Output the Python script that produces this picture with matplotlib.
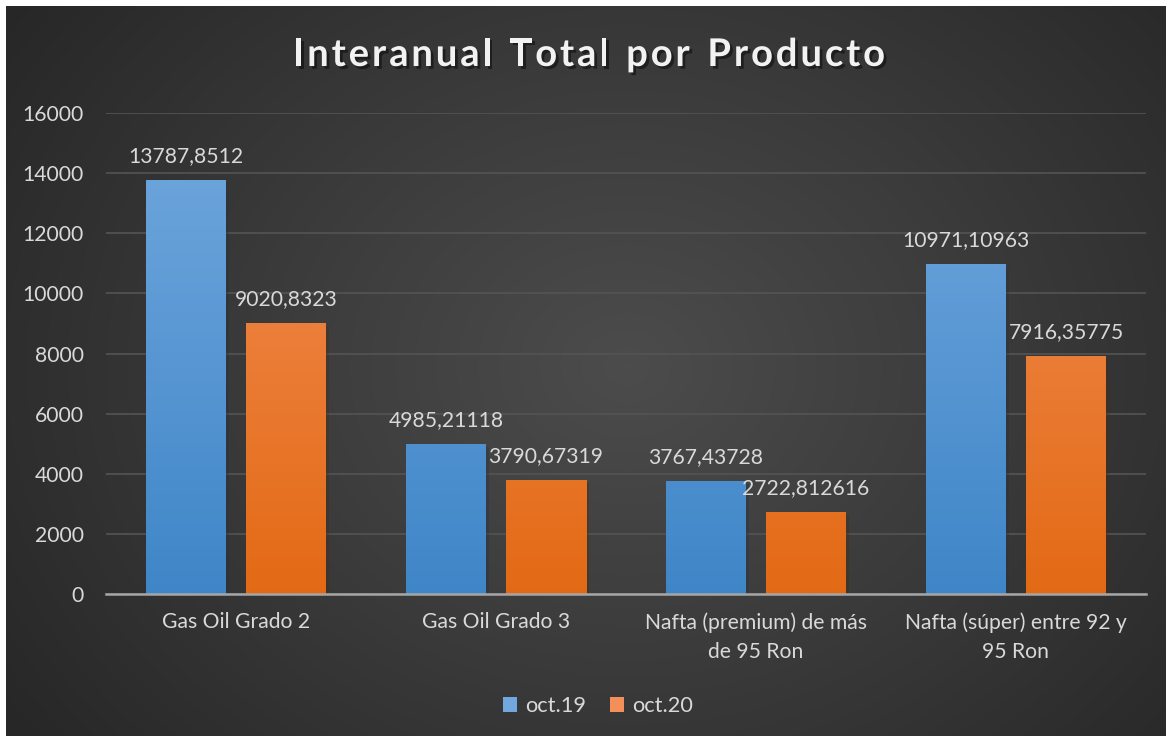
import numpy as np
import matplotlib
matplotlib.use("Agg")
import matplotlib.pyplot as plt
import matplotlib.patheffects as pe
from matplotlib.colors import LinearSegmentedColormap
from matplotlib.patches import Patch

plt.rcParams['font.family'] = ['Lato', 'DejaVu Sans']

titulo = "Interanual Total por Producto"
productos = ["Gas Oil Grado 2", "Gas Oil Grado 3",
             "Nafta (premium) de más\nde 95 Ron", "Nafta (súper) entre 92 y\n95 Ron"]
oct19 = [13787.8512, 4985.21118, 3767.43728, 10971.10963]
oct20 = [9020.8323, 3790.67319, 2722.812616, 7916.35775]
series = ["oct.19", "oct.20"]
yticks = [0, 2000, 4000, 6000, 8000, 10000, 12000, 14000, 16000]

txt = "#d9d9d9"
azul = ("#72a8de", "#3f86c8")
naranja = ("#f38f58", "#e36a15")
fs = 15.2

fig = plt.figure(figsize=(11.66, 7.36), dpi=100)
fig.patch.set_facecolor("white")

# fondo con degradado radial
bg = fig.add_axes([6 / 1166, 0, 1160 / 1166, 730 / 736])
bg.set_axis_off()
yy, xx = np.mgrid[0:730, 0:1160]
r = np.sqrt(((xx - 620) / 760.0) ** 2 + ((yy - 360) / 620.0) ** 2)
r = np.clip(r, 0, 1)
cmap_bg = LinearSegmentedColormap.from_list("bg", ["#4c4c4c", "#3a3a3a", "#272727"])
bg.imshow(r, cmap=cmap_bg, aspect="auto", interpolation="bilinear", vmin=0, vmax=1)

ax = fig.add_axes([106 / 1166, 142 / 736, 1040 / 1166, 481 / 736])
ax.patch.set_alpha(0)
x = np.arange(len(productos))
w = 80 / 260
off = 50 / 260


def grad_bars(bars, cols):
    cm = LinearSegmentedColormap.from_list("g", [cols[1], cols[0]])
    g = np.linspace(0, 1, 256).reshape(-1, 1)
    for b in bars:
        x0 = b.get_x()
        im = ax.imshow(g, cmap=cm, origin="lower", aspect="auto",
                       extent=[x0, x0 + b.get_width(), 0, 16000], zorder=3)
        im.set_clip_path(b)


sombra = [pe.SimplePatchShadow(offset=(2, -2), alpha=0.35), pe.Normal()]
b1 = ax.bar(x - off, oct19, w, color=azul[0], zorder=2, path_effects=sombra)
b2 = ax.bar(x + off, oct20, w, color=naranja[0], zorder=2, path_effects=sombra)
grad_bars(b1, azul)
grad_bars(b2, naranja)

for bars, vals in ((b1, oct19), (b2, oct20)):
    for b, v in zip(bars, vals):
        ax.annotate(str(v).replace(".", ","), (b.get_x() + b.get_width() / 2, v),
                    xytext=(0, 10), textcoords="offset points", ha="center", va="bottom",
                    color=txt, fontsize=fs, zorder=5)

ax.set_xlim(-0.5, len(productos) - 0.5)
ax.set_ylim(0, 16000)
ax.set_yticks(yticks)
ax.set_yticklabels([str(t) for t in yticks])
ax.set_xticks(x)
ax.set_xticklabels(productos, linespacing=1.6)
ax.tick_params(axis="y", length=0, pad=16, colors=txt, labelsize=fs)
ax.tick_params(axis="x", length=0, pad=13, colors=txt, labelsize=fs)
ax.grid(axis="y", color="#545454", linewidth=1.2, zorder=0)
ax.set_axisbelow(True)
for s in ["top", "right", "left"]:
    ax.spines[s].set_visible(False)
ax.spines["bottom"].set_color("#a6a6a6")
ax.spines["bottom"].set_linewidth(1.8)
ax.spines["bottom"].set_zorder(4)

# titulo con espaciado entre letras
renderer = fig.canvas.get_renderer()
tprops = dict(color="#f2f2f2", fontsize=27.5, fontweight="bold", va="center", ha="left",
              path_effects=[pe.withSimplePatchShadow(offset=(2, -2), shadow_rgbFace="black", alpha=0.45)])
ancho_obj = 592
anchos = []
for ch in titulo:
    t = fig.text(0, 0, ch if ch != " " else "n", **tprops)
    bb = t.get_window_extent(renderer)
    anchos.append(bb.width * (0.55 if ch == " " else 1))
    t.remove()
extra = (ancho_obj - sum(anchos)) / (len(titulo) - 1)
xpos = 589 - ancho_obj / 2
for ch, a in zip(titulo, anchos):
    if ch != " ":
        fig.text(xpos / 1166, 1 - 55 / 736, ch, **tprops)
    xpos += a + extra

handles = [Patch(facecolor=azul[0]), Patch(facecolor=naranja[0])]
leg = fig.legend(handles, series, loc="center", bbox_to_anchor=(598 / 1166, 1 - 706 / 736),
                 ncol=2, frameon=False, fontsize=fs + 0.5, handlelength=0.65, handleheight=0.65,
                 handletextpad=0.35, columnspacing=1.1)
for t in leg.get_texts():
    t.set_color(txt)

fig.savefig("out.png", dpi=100)
